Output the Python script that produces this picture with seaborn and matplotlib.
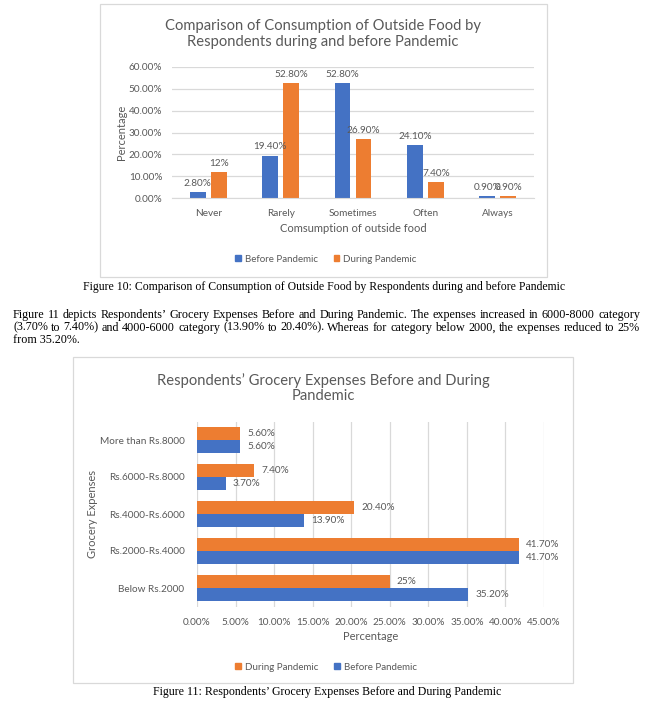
import matplotlib
matplotlib.use("Agg")
import matplotlib.pyplot as plt
import matplotlib.ticker as mticker
from matplotlib.patches import Rectangle, Patch
import pandas as pd
import seaborn as sns

W, H = 651, 705
BLUE = "#4472C4"
ORANGE = "#ED7D31"
GRID = "#D9D9D9"
TXT = "#595959"
CHART_FONT = "Lato"
BODY_FONT = "Liberation Serif"

# Figure 10 data
freq_cats = ["Never", "Rarely", "Sometimes", "Often", "Always"]
before_food = [2.8, 19.4, 52.8, 24.1, 0.9]
during_food = [12.0, 52.8, 26.9, 7.4, 0.9]
before_food_labels = ["2.80%", "19.40%", "52.80%", "24.10%", "0.90%"]
during_food_labels = ["12%", "52.80%", "26.90%", "7.40%", "0.90%"]

# Figure 11 data
expense_cats = ["More than Rs.8000", "Rs.6000-Rs.8000", "Rs.4000-Rs.6000",
                "Rs.2000-Rs.4000", "Below Rs.2000"]
during_grocery = [5.6, 7.4, 20.4, 41.7, 25.0]
before_grocery = [5.6, 3.7, 13.9, 41.7, 35.2]
during_grocery_labels = ["5.60%", "7.40%", "20.40%", "41.70%", "25%"]
before_grocery_labels = ["5.60%", "3.70%", "13.90%", "41.70%", "35.20%"]

caption10 = ("Figure 10: Comparison of Consumption of Outside Food by Respondents "
             "during and before Pandemic")
caption11 = "Figure 11: Respondents’ Grocery Expenses Before and During Pandemic"
paragraph = [
    "Figure 11 depicts Respondents’ Grocery Expenses Before and During Pandemic. "
    "The expenses increased in 6000-8000 category",
    "(3.70% to 7.40%) and 4000-6000 category (13.90% to 20.40%). Whereas for "
    "category below 2000, the expenses reduced to 25%",
    "from 35.20%.",
]


def fx(x):
    return x / W


def fy(y):
    return 1 - y / H


def px_axes(fig, left, top, right, bottom):
    return fig.add_axes([fx(left), fy(bottom), (right - left) / W, (bottom - top) / H])


def chart_box(fig, left, top, right, bottom):
    fig.patches.append(Rectangle((fx(left), fy(bottom)), (right - left) / W,
                                 (bottom - top) / H, transform=fig.transFigure,
                                 fill=False, edgecolor=GRID, lw=0.9))


def justify_line(fig, renderer, line, x0, x1, y, **kw):
    # spread the words of one line between x0 and x1 (justified text)
    words = line.split(" ")
    texts = [fig.text(0, fy(y), w, va="center", ha="left", **kw) for w in words]
    widths = [t.get_window_extent(renderer=renderer).width for t in texts]
    space = (x1 - x0 - sum(widths)) / max(len(words) - 1, 1)
    x = x0
    for t, w in zip(texts, widths):
        t.set_x(fx(x))
        x += w + space


def style_axes(ax):
    for s in ax.spines.values():
        s.set_visible(False)
    ax.set_axisbelow(True)
    ax.tick_params(length=0, colors=TXT, labelsize=7.2)
    for lab in ax.get_xticklabels() + ax.get_yticklabels():
        lab.set_fontfamily(CHART_FONT)


fig = plt.figure(figsize=(W / 100, H / 100), dpi=100)
renderer = fig.canvas.get_renderer()

# ---------------- Figure 10 ----------------
chart_box(fig, 100, 4, 547, 277)
ax1 = px_axes(fig, 172, 67, 534, 198)
df1 = pd.DataFrame({
    "cat": freq_cats * 2,
    "val": before_food + during_food,
    "period": ["Before Pandemic"] * 5 + ["During Pandemic"] * 5,
})
sns.barplot(data=df1, x="cat", y="val", hue="period", order=freq_cats,
            hue_order=["Before Pandemic", "During Pandemic"],
            palette=[BLUE, ORANGE], saturation=1, width=0.58, gap=0.24,
            legend=False, ax=ax1)
ax1.set_xlim(-0.5, 4.5)
ax1.set_ylim(0, 60)
ax1.set_yticks(range(0, 61, 10))
ax1.yaxis.set_major_formatter(mticker.FuncFormatter(lambda v, p: f"{v:.2f}%"))
ax1.yaxis.grid(True, color=GRID, lw=0.9)
style_axes(ax1)
ax1.spines["bottom"].set_visible(True)
ax1.spines["bottom"].set_color(GRID)
ax1.tick_params(axis="y", pad=7)
ax1.tick_params(axis="x", pad=8)
for cont, labs in zip(ax1.containers, [before_food_labels, during_food_labels]):
    ax1.bar_label(cont, labels=labs, padding=3, fontsize=7.2, color=TXT,
                  fontfamily=CHART_FONT)
ax1.set_xlabel("")
ax1.set_ylabel("")
fig.text(fx(121), fy(132), "Percentage", rotation=90, ha="center", va="center",
         fontsize=8, color=TXT, fontfamily=CHART_FONT)
fig.text(fx(353), fy(228), "Comsumption of outside food", ha="center", va="center",
         fontsize=8, color=TXT, fontfamily=CHART_FONT)
fig.text(fx(323), fy(34), "Comparison of Consumption of Outside Food by\n"
         "Respondents during and before Pandemic", ha="center", va="center",
         fontsize=10.6, color=TXT, fontfamily=CHART_FONT, linespacing=1.15)
fig.legend(handles=[Patch(color=BLUE, label="Before Pandemic"),
                    Patch(color=ORANGE, label="During Pandemic")],
           loc="center", bbox_to_anchor=(fx(326), fy(259)), ncol=2, frameon=False,
           handlelength=0.6, handleheight=0.6, handletextpad=0.4,
           columnspacing=1.6, prop={"family": CHART_FONT, "size": 7},
           labelcolor=TXT)

# captions and body text
fig.text(fx(324), fy(287), caption10, ha="center", va="center", fontsize=8.45,
         fontfamily=BODY_FONT, color="black")
for i, line in enumerate(paragraph):
    if i < len(paragraph) - 1:
        justify_line(fig, renderer, line, 13, 640, 315 + 12.5 * i, fontsize=8.7,
                     fontfamily=BODY_FONT, color="black")
    else:
        fig.text(fx(13), fy(315 + 12.5 * i), line, ha="left", va="center",
                 fontsize=8.7, fontfamily=BODY_FONT, color="black")

# ---------------- Figure 11 ----------------
chart_box(fig, 73, 357, 573, 683)
ax2 = px_axes(fig, 197, 421.5, 544, 606.5)
df2 = pd.DataFrame({
    "cat": expense_cats * 2,
    "val": during_grocery + before_grocery,
    "period": ["During Pandemic"] * 5 + ["Before Pandemic"] * 5,
})
sns.barplot(data=df2, y="cat", x="val", hue="period", order=expense_cats,
            hue_order=["During Pandemic", "Before Pandemic"], orient="h",
            palette=[ORANGE, BLUE], saturation=1, width=0.68, gap=0,
            legend=False, ax=ax2)
ax2.set_xlim(0, 45)
ax2.set_ylim(4.5, -0.5)
ax2.set_xticks(range(0, 46, 5))
ax2.xaxis.set_major_formatter(mticker.FuncFormatter(lambda v, p: f"{v:.2f}%"))
ax2.xaxis.grid(True, color=GRID, lw=0.9)
style_axes(ax2)
ax2.tick_params(axis="y", pad=9)
ax2.tick_params(axis="x", pad=8)
for cont, labs in zip(ax2.containers, [during_grocery_labels, before_grocery_labels]):
    ax2.bar_label(cont, labels=labs, padding=5, fontsize=7.2, color=TXT,
                  fontfamily=CHART_FONT)
ax2.set_xlabel("")
ax2.set_ylabel("")
fig.text(fx(92), fy(514), "Grocery Expenses", rotation=90, ha="center", va="center",
         fontsize=8, color=TXT, fontfamily=CHART_FONT)
fig.text(fx(371), fy(636), "Percentage", ha="center", va="center",
         fontsize=8, color=TXT, fontfamily=CHART_FONT)
fig.text(fx(323), fy(388), "Respondents’ Grocery Expenses Before and During\n"
         "Pandemic", ha="center", va="center",
         fontsize=10.6, color=TXT, fontfamily=CHART_FONT, linespacing=1.15)
fig.legend(handles=[Patch(color=ORANGE, label="During Pandemic"),
                    Patch(color=BLUE, label="Before Pandemic")],
           loc="center", bbox_to_anchor=(fx(326), fy(667)), ncol=2, frameon=False,
           handlelength=0.6, handleheight=0.6, handletextpad=0.4,
           columnspacing=1.6, prop={"family": CHART_FONT, "size": 7},
           labelcolor=TXT)

fig.text(fx(327), fy(692), caption11, ha="center", va="center", fontsize=8.6,
         fontfamily=BODY_FONT, color="black")

fig.savefig("out.png", dpi=100)
